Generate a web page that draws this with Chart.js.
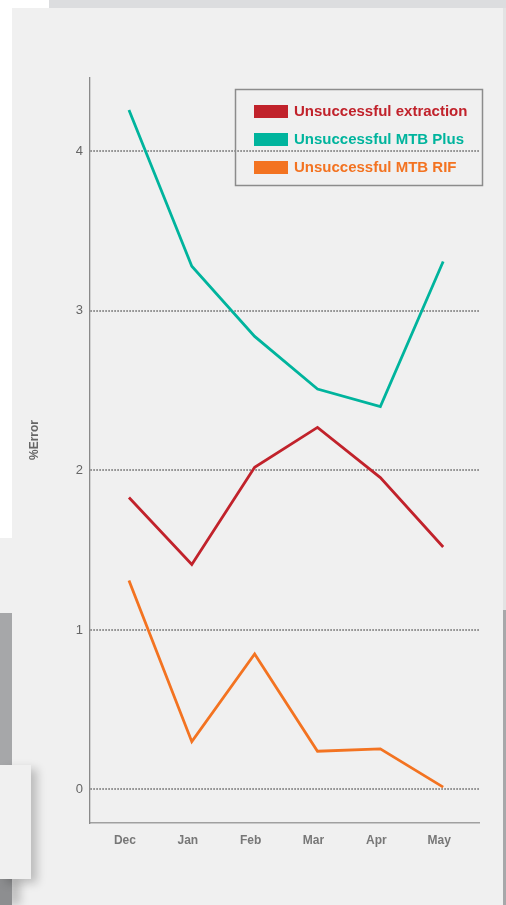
<!DOCTYPE html>
<html>
<head>
<meta charset="utf-8">
<script src="https://cdn.jsdelivr.net/npm/chart.js@4.4.1/dist/chart.umd.min.js"></script>
<style>
  html, body { margin: 0; padding: 0; }
  body { width: 506px; height: 905px; background: #f0f0f0; position: relative; overflow: hidden; }
  .bg { position: absolute; }
  #wrap { position: absolute; left: 0; top: 0; width: 506px; height: 905px; }
</style>
</head>
<body>
<div class="bg" style="left:0;top:0;width:506px;height:8px;background:#dcdddf"></div>
<div class="bg" style="left:0;top:0;width:49px;height:8px;background:#ffffff"></div>
<div class="bg" style="left:0;top:0;width:12px;height:538px;background:#ffffff"></div>
<div class="bg" style="left:0;top:613px;width:12px;height:152px;background:#a6a7a9"></div>
<div class="bg" style="left:0;top:879px;width:12px;height:26px;background:#8d8e90;box-shadow:8px 0 10px rgba(0,0,0,0.22)"></div>
<div class="bg" style="left:0;top:765px;width:31px;height:114px;background:#f0f0f0;box-shadow:6px 4px 9px rgba(0,0,0,0.22)"></div>
<div class="bg" style="left:503px;top:8px;width:3px;height:602px;background:#e3e3e3"></div>
<div class="bg" style="left:503px;top:610px;width:3px;height:295px;background:#a7a8aa"></div>
<div id="wrap"><canvas id="c" width="506" height="905"></canvas></div>
<script>
const months = ["Dec", "Jan", "Feb", "Mar", "Apr", "May"];
const extraction = [1.83, 1.41, 2.02, 2.27, 1.955, 1.52];
const mtbPlus = [4.26, 3.28, 2.84, 2.51, 2.40, 3.31];
const mtbRif = [1.31, 0.30, 0.85, 0.24, 0.255, 0.015];
const yTicks = [0, 1, 2, 3, 4];
const seriesNames = ["Unsuccessful extraction", "Unsuccessful MTB Plus", "Unsuccessful MTB RIF"];
const seriesColors = ["#c1222b", "#00b49d", "#f37321"];
const yTitle = "%Error";

const FONT = "'Liberation Sans', Arial, sans-serif";

function pts(arr) { return arr.map((v, i) => ({ x: i, y: v })); }

const legendPlugin = {
  id: 'boxLegend',
  afterDraw(chart) {
    const ctx = chart.ctx;
    const ca = chart.chartArea;
    const right = ca.right + 3, top = ca.top + 11;
    const w = 247, h = 96;
    const left = right - w;
    ctx.save();
    ctx.strokeStyle = '#8c8c8c';
    ctx.lineWidth = 1.5;
    ctx.strokeRect(left + 0.5, top + 0.5, w, h);
    ctx.font = 'bold 15px ' + FONT;
    ctx.textBaseline = 'middle';
    chart.data.datasets.forEach((ds, i) => {
      const cy = top + 22.5 + i * 28;
      ctx.fillStyle = ds.borderColor;
      ctx.fillRect(left + 19, cy - 6.5, 34, 13);
      ctx.fillText(ds.label, left + 59, cy + 0.5);
    });
    ctx.restore();
  }
};

const yTitlePlugin = {
  id: 'yTitle',
  afterDraw(chart) {
    const ctx = chart.ctx;
    ctx.save();
    ctx.translate(35, 440);
    ctx.rotate(-Math.PI / 2);
    ctx.font = 'bold 12px ' + FONT;
    ctx.fillStyle = '#666';
    ctx.textAlign = 'center';
    ctx.textBaseline = 'middle';
    ctx.fillText(yTitle, 0, 0);
    ctx.restore();
  }
};

new Chart(document.getElementById('c'), {
  type: 'line',
  data: {
    datasets: [
      { label: seriesNames[0], data: pts(extraction), borderColor: seriesColors[0], backgroundColor: seriesColors[0] },
      { label: seriesNames[1], data: pts(mtbPlus), borderColor: seriesColors[1], backgroundColor: seriesColors[1] },
      { label: seriesNames[2], data: pts(mtbRif), borderColor: seriesColors[2], backgroundColor: seriesColors[2] }
    ]
  },
  options: {
    responsive: false,
    animation: false,
    devicePixelRatio: 1,
    layout: { padding: { left: 0, top: 78, right: 27, bottom: 0 } },
    elements: {
      line: { borderWidth: 2.8, tension: 0, fill: false, borderCapStyle: 'butt', borderJoinStyle: 'miter' },
      point: { radius: 0, hoverRadius: 0 }
    },
    plugins: {
      legend: { display: false },
      tooltip: { enabled: false },
      title: { display: false }
    },
    scales: {
      x: {
        type: 'linear',
        min: -0.62,
        max: 5.57,
        afterFit(scale) { scale.height = 82; },
        afterBuildTicks(scale) { scale.ticks = months.map((m, i) => ({ value: i })); },
        grid: { display: false, drawTicks: false },
        border: { display: true, color: '#a0a0a0', width: 1.5 },
        ticks: {
          includeBounds: false,
          stepSize: 1,
          autoSkip: false,
          maxRotation: 0,
          padding: 10,
          labelOffset: -4,
          color: '#777',
          font: { family: FONT, size: 12, weight: 'bold' },
          callback: (v) => months[v] ?? ''
        }
      },
      y: {
        type: 'linear',
        min: -0.21,
        max: 4.46,
        afterFit(scale) { scale.width = 90; },
        afterBuildTicks(scale) { scale.ticks = yTicks.map(v => ({ value: v })); },
        grid: { display: true, drawTicks: false, color: '#8c8c8c', lineWidth: 2 },
        border: { display: true, color: '#8a8a8a', width: 1.3, dash: [1.6, 1.4] },
        ticks: {
          includeBounds: false,
          stepSize: 1,
          padding: 7,
          color: '#666',
          font: { family: FONT, size: 13 }
        }
      }
    }
  },
  plugins: [legendPlugin, yTitlePlugin]
});
</script>
</body>
</html>
